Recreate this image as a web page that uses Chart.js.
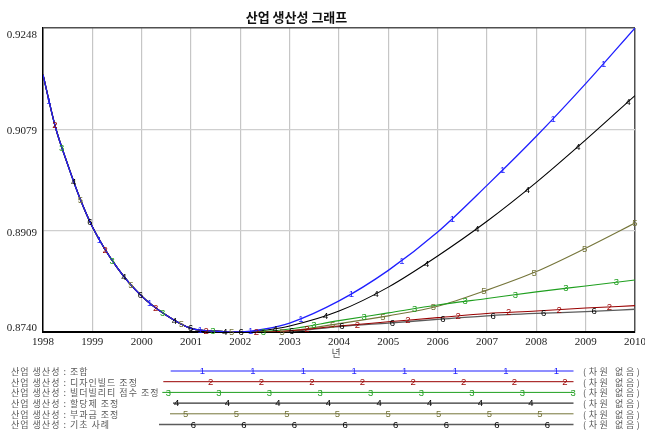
<!DOCTYPE html>
<html>
<head>
<meta charset="utf-8">
<script src="https://cdn.jsdelivr.net/npm/chart.js@4/dist/chart.umd.min.js"></script>
<style>
  html, body { margin: 0; padding: 0; background: #ffffff; }
  canvas { display: block; }
</style>
</head>
<body>
<canvas id="c" width="645" height="432"></canvas>
<script>
// Simulation output times (years) shared by every run
const years = [1998, 1998.25, 1998.5, 1998.75, 1999, 1999.5, 2000, 2000.5, 2001, 2001.5,
               2002, 2002.5, 2003, 2004, 2005, 2006, 2007, 2008, 2009, 2010];

// Industrial productivity (dimensionless) for each policy run
const combined       = [0.9170, 0.9083, 0.9020, 0.8963, 0.8916, 0.8848, 0.8800, 0.8768, 0.8746, 0.87415,
                        0.8740, 0.8745, 0.8755, 0.8792, 0.8843, 0.8907, 0.8985, 0.9067, 0.9155, 0.9248];
const designBuild    = [0.9170, 0.9083, 0.9020, 0.8963, 0.8916, 0.8848, 0.8800, 0.8768, 0.8746, 0.87415,
                        0.8740, 0.8740, 0.8742, 0.8750, 0.8757, 0.8764, 0.8771, 0.8775, 0.8780, 0.8784];
const buildability   = [0.9170, 0.9083, 0.9020, 0.8963, 0.8916, 0.8848, 0.8800, 0.8768, 0.8746, 0.87415,
                        0.8740, 0.8741, 0.8745, 0.8759, 0.8772, 0.8785, 0.8796, 0.8807, 0.8817, 0.8827];
const quota          = [0.9170, 0.9083, 0.9020, 0.8963, 0.8916, 0.8848, 0.8800, 0.8768, 0.8746, 0.87415,
                        0.8740, 0.8743, 0.8750, 0.8775, 0.8815, 0.8867, 0.8925, 0.8990, 0.9061, 0.9135];
const levy           = [0.9170, 0.9083, 0.9020, 0.8963, 0.8916, 0.8848, 0.8800, 0.8768, 0.8746, 0.87415,
                        0.8740, 0.8740, 0.8742, 0.8754, 0.8767, 0.8783, 0.8810, 0.8841, 0.8880, 0.8922];
const baseCase       = [0.9170, 0.9083, 0.9020, 0.8963, 0.8916, 0.8848, 0.8800, 0.8768, 0.8746, 0.87415,
                        0.8740, 0.8740, 0.8741, 0.8749, 0.8755, 0.8761, 0.8767, 0.8771, 0.8774, 0.8778];

const yTickValues = [0.8740, 0.8909, 0.9079, 0.9248];
const xTickValues = [1998, 1999, 2000, 2001, 2002, 2003, 2004, 2005, 2006, 2007, 2008, 2009, 2010];

const seriesLabels = [
  '산업 생산성 : 조합',
  '산업 생산성 : 디자인빌드 조정',
  '산업 생산성 : 빌더빌리티 점수 조정',
  '산업 생산성 : 할당제 조정',
  '산업 생산성 : 부과금 조정',
  '산업 생산성 : 기초 사례'
];
const unitLabel = '(차원 없음)';
const chartTitle = '산업 생산성 그래프';
const xAxisTitle = '년';

const allSeries = [combined, designBuild, buildability, quota, levy, baseCase];

// styling
const lineColors   = ['#1f1fff', '#990000', '#1f9f1f', '#000000', '#75753a', '#5c5c5c'];
const markColors   = ['#1f1fff', '#990000', '#1f9f1f', '#000000', '#75753a', '#000000'];
const lineWidths   = [1.3, 1.1, 1.1, 1.1, 1.1, 1.3];
const markStart    = [0.12, 0.24, 0.38, 0.62, 0.76, 0.95];   // years after 1998 of first number mark
const markStep     = 1.022;
const legendLineX  = [170.7, 163.3, 162.3, 173, 170, 159];
const legendMarkX  = [202.3, 210.7, 168.3, 176.7, 185.7, 193.3];
const legendLineEnd = 573.5;
const legendStep   = 50.6;
const legendTop    = 371;
const legendRowH   = 10.7;

const KR = '"Noto Sans CJK KR", "Noto Sans", sans-serif';
const SERIF = '"Liberation Serif", "DejaVu Serif", serif';
const MARK_FONT = '9.5px "Liberation Sans", "DejaVu Sans", sans-serif';

function bez(a, b, c, d, t) {
  const u = 1 - t;
  return u * u * u * a + 3 * u * u * t * b + 3 * u * t * t * c + t * t * t * d;
}
// y pixel of the drawn (bezier) line at pixel x
function curveY(meta, px) {
  const pts = meta.data;
  for (let i = 0; i < pts.length - 1; i++) {
    const a = pts[i], b = pts[i + 1];
    if (px >= a.x - 0.01 && px <= b.x + 0.01) {
      const ax1 = a.cp2x ?? a.x, ay1 = a.cp2y ?? a.y;
      const bx1 = b.cp1x ?? b.x, by1 = b.cp1y ?? b.y;
      let lo = 0, hi = 1;
      for (let k = 0; k < 40; k++) {
        const m = (lo + hi) / 2;
        if (bez(a.x, ax1, bx1, b.x, m) < px) lo = m; else hi = m;
      }
      return bez(a.y, ay1, by1, b.y, (lo + hi) / 2);
    }
  }
  return null;
}

function setSpacing(ctx, v) {
  if ('letterSpacing' in ctx) ctx.letterSpacing = v;
}

const decorations = {
  id: 'decorations',
  afterDatasetsDraw(chart) {
    const ctx = chart.ctx;
    const xs = chart.scales.x;
    ctx.save();
    ctx.font = MARK_FONT;
    ctx.textAlign = 'center';
    ctx.textBaseline = 'middle';
    chart.data.datasets.forEach((ds, i) => {
      const meta = chart.getDatasetMeta(i);
      ctx.fillStyle = markColors[i];
      for (let n = 0; ; n++) {
        const t = markStart[i] + n * markStep;
        if (t > 12.01) break;
        const px = Math.min(xs.getPixelForValue(1998 + t), xs.right);
        const py = curveY(meta, px);
        if (py !== null) ctx.fillText(String(i + 1), px, py + 0.5);
      }
    });
    ctx.restore();
  },
  afterDraw(chart) {
    const ctx = chart.ctx;
    const xs = chart.scales.x, ys = chart.scales.y;
    const area = chart.chartArea;
    ctx.save();

    // title
    ctx.fillStyle = '#111';
    ctx.font = 'bold 13px ' + KR;
    ctx.textAlign = 'center';
    ctx.textBaseline = 'middle';
    ctx.fillText(chartTitle, 296.5, 17);

    // y tick labels
    ctx.font = '11px ' + SERIF;
    ctx.fillStyle = '#222';
    ctx.textAlign = 'right';
    yTickValues.forEach(v => {
      let py = ys.getPixelForValue(v) + 2;
      py = Math.max(area.top + 7, Math.min(area.bottom - 4, py));
      ctx.fillText(v.toFixed(4), 37, py);
    });

    // x tick labels
    ctx.textAlign = 'center';
    xTickValues.forEach(v => {
      ctx.fillText(String(v), xs.getPixelForValue(v), area.bottom + 10);
    });

    // x axis title
    ctx.font = '10px ' + KR;
    ctx.fillStyle = '#555';
    ctx.fillText(xAxisTitle, (area.left + area.right) / 2 - 3, area.bottom + 21);

    // legend rows
    seriesLabels.forEach((label, i) => {
      const y = legendTop + i * legendRowH;
      ctx.font = '9px ' + KR;
      ctx.fillStyle = '#5a5a5a';
      ctx.textAlign = 'left';
      setSpacing(ctx, '1px');
      ctx.fillText(label, 11, y + 0.5);
      setSpacing(ctx, '0px');
      ctx.beginPath();
      ctx.strokeStyle = lineColors[i];
      ctx.lineWidth = i === 5 ? 1.6 : 1;
      ctx.moveTo(legendLineX[i], y);
      ctx.lineTo(legendLineEnd, y);
      ctx.stroke();
      ctx.font = MARK_FONT;
      ctx.fillStyle = markColors[i];
      ctx.textAlign = 'center';
      for (let mx = legendMarkX[i]; mx <= legendLineEnd + 1; mx += legendStep) {
        ctx.fillText(String(i + 1), mx, y + 0.5);
      }
      ctx.font = '9px ' + KR;
      ctx.fillStyle = '#5a5a5a';
      ctx.textAlign = 'left';
      setSpacing(ctx, '2.6px');
      ctx.fillText(unitLabel, 583, y + 0.5);
      setSpacing(ctx, '0px');
    });
    ctx.restore();
  }
};

const datasets = allSeries.map((vals, i) => ({
  label: seriesLabels[i],
  data: years.map((yr, k) => ({ x: yr, y: vals[k] })),
  borderColor: lineColors[i],
  backgroundColor: lineColors[i],
  borderWidth: lineWidths[i],
  pointRadius: 0,
  cubicInterpolationMode: 'monotone',
  fill: false
}));

new Chart(document.getElementById('c'), {
  type: 'line',
  data: { datasets },
  options: {
    responsive: false,
    animation: false,
    devicePixelRatio: 1,
    layout: { padding: { left: 43, right: 10, top: 28, bottom: 100 } },
    plugins: { legend: { display: false }, tooltip: { enabled: false }, title: { display: false } },
    scales: {
      x: {
        type: 'linear',
        min: 1998, max: 2010,
        afterBuildTicks: s => { s.ticks = xTickValues.map(v => ({ value: v })); },
        ticks: { display: false },
        grid: {
          drawTicks: false,
          color: c => (c.tick && c.tick.value === 2010) ? '#505050' : '#c6c6c6',
          lineWidth: c => (c.tick && c.tick.value === 2010) ? 1.5 : 1.2
        },
        border: { display: true, color: '#000', width: 2 }
      },
      y: {
        type: 'linear',
        min: 0.8740, max: 0.9248,
        afterBuildTicks: s => { s.ticks = yTickValues.map(v => ({ value: v })); },
        ticks: { display: false },
        grid: {
          drawTicks: false,
          color: c => (c.tick && c.tick.value === 0.9248) ? '#505050' : '#cfcfcf',
          lineWidth: c => (c.tick && c.tick.value === 0.9248) ? 1.5 : 1.2
        },
        border: { display: true, color: '#000', width: 1.5 }
      }
    }
  },
  plugins: [decorations]
});
</script>
</body>
</html>
